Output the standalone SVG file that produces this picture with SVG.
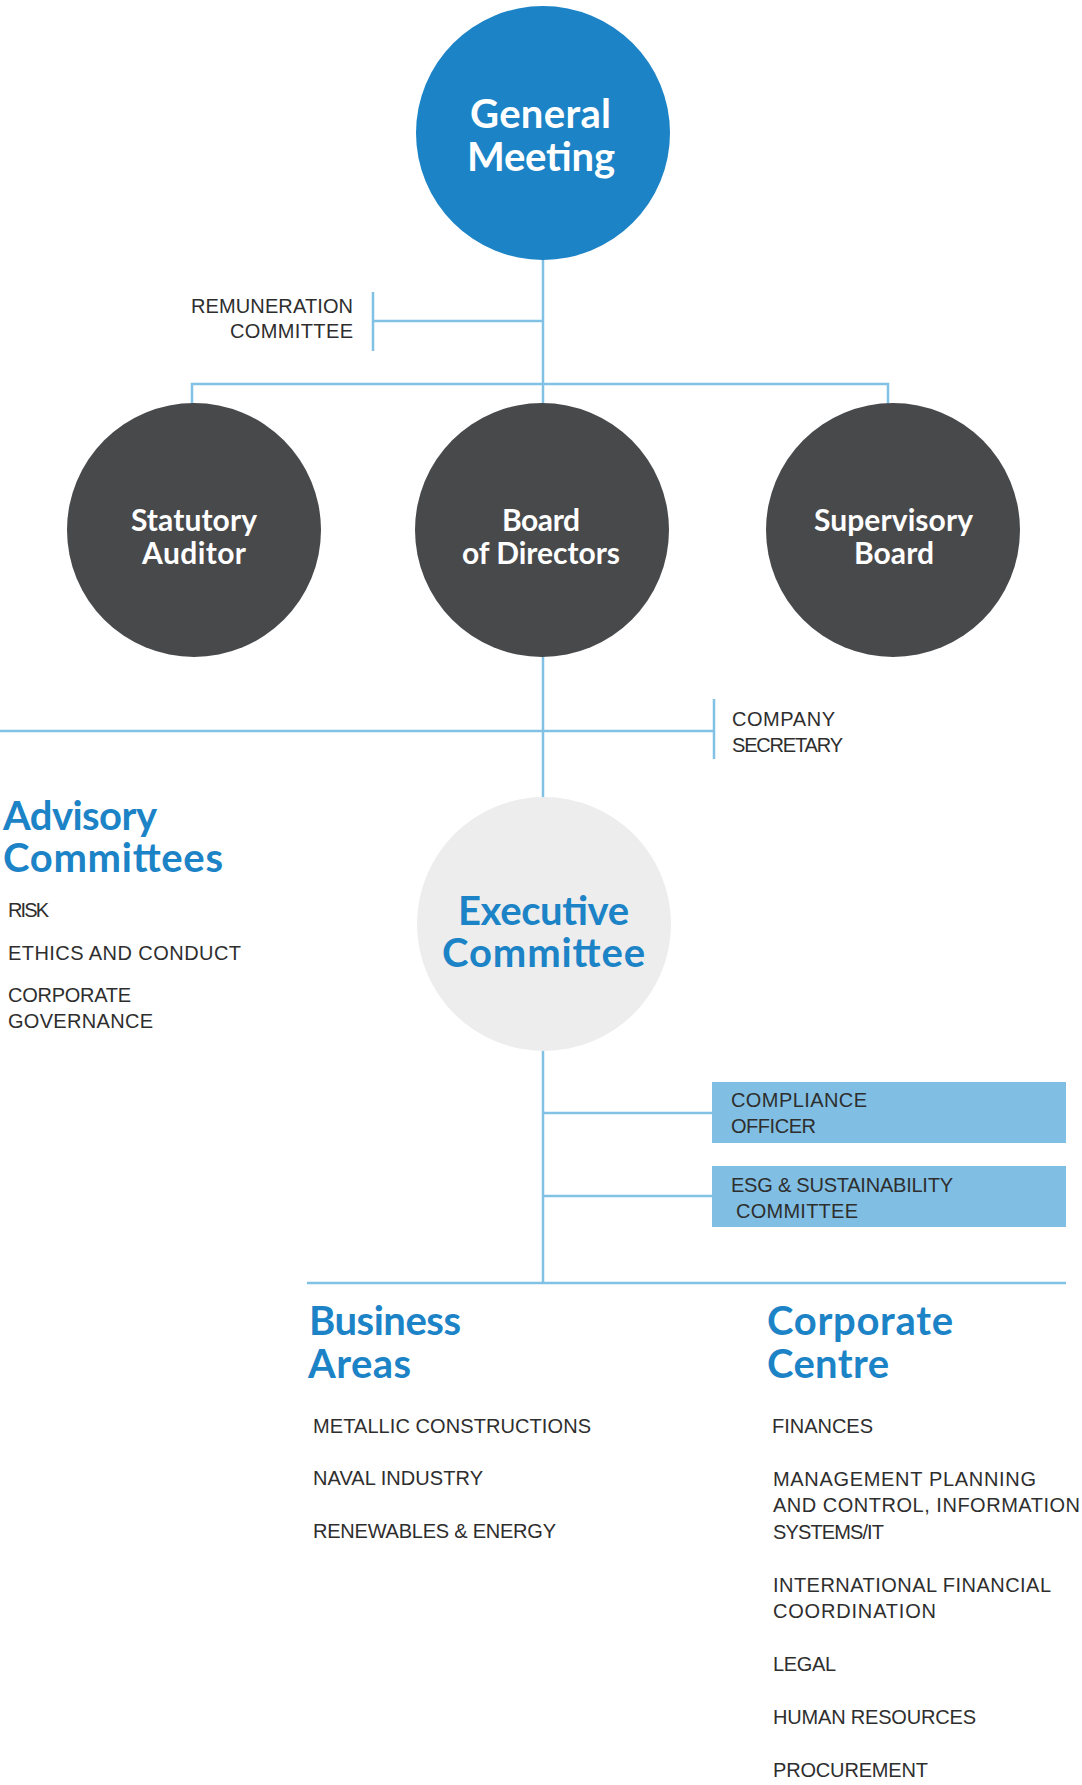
<svg xmlns="http://www.w3.org/2000/svg" width="1082" height="1785" viewBox="0 0 1082 1785">
  <style>
    .link { stroke: #80c1e5; stroke-width: 2.5; fill: none; }
    .head { font-family: Lato, "Open Sans", "Liberation Sans", sans-serif; font-weight: 700; font-size: 40px; fill: #1b83c6; }
    .head-w { font-family: Lato, "Open Sans", "Liberation Sans", sans-serif; font-weight: 700; font-size: 40px; fill: #ffffff; }
    .head-s { font-family: Lato, "Open Sans", "Liberation Sans", sans-serif; font-weight: 700; font-size: 30px; fill: #ffffff; }
    .body { font-family: "Liberation Sans", Arial, sans-serif; font-size: 20px; fill: #2e2e2e; }
    .dark { fill: #48494b; }
    .box { fill: #80bfe3; }
  </style>
  <rect width="1082" height="1785" fill="#ffffff"/>

  <g id="connectors">
    <!-- General Meeting down to Board of Directors -->
    <line class="link" x1="543" y1="258" x2="543" y2="405"/>
    <!-- Remuneration Committee bracket -->
    <line class="link" x1="543" y1="321" x2="373" y2="321"/>
    <line class="link" x1="373" y1="292" x2="373" y2="351"/>
    <!-- branch to the three governing bodies -->
    <polyline class="link" points="192,405 192,384 888,384 888,405"/>
    <!-- Board of Directors down to Executive Committee -->
    <line class="link" x1="543" y1="655" x2="543" y2="799"/>
    <!-- Advisory / Company Secretary bar -->
    <line class="link" x1="0" y1="731" x2="714" y2="731"/>
    <line class="link" x1="714" y1="699" x2="714" y2="759"/>
    <!-- Executive Committee down to the operating level -->
    <line class="link" x1="543" y1="1050" x2="543" y2="1283"/>
    <line class="link" x1="543" y1="1113" x2="712" y2="1113"/>
    <line class="link" x1="543" y1="1196" x2="712" y2="1196"/>
    <line class="link" x1="307" y1="1283" x2="1066" y2="1283"/>
  </g>

  <g id="general-meeting">
    <circle cx="543" cy="133" r="127" fill="#1b83c6"/>
    <text class="head-w" x="470" y="128" textLength="141" lengthAdjust="spacing">General</text>
    <text class="head-w" x="467" y="171" textLength="148" lengthAdjust="spacing">Meeting</text>
  </g>

  <g id="remuneration-committee">
    <text class="body" x="191" y="313" textLength="162" lengthAdjust="spacing">REMUNERATION</text>
    <text class="body" x="230" y="338" textLength="123" lengthAdjust="spacing">COMMITTEE</text>
  </g>

  <g id="statutory-auditor">
    <circle class="dark" cx="194" cy="530" r="127"/>
    <text class="head-s" x="131" y="531" textLength="126" lengthAdjust="spacing">Statutory</text>
    <text class="head-s" x="142" y="564" textLength="104" lengthAdjust="spacing">Auditor</text>
  </g>

  <g id="board-of-directors">
    <circle class="dark" cx="542" cy="530" r="127"/>
    <text class="head-s" x="502" y="531" textLength="78" lengthAdjust="spacing">Board</text>
    <text class="head-s" x="462" y="564" textLength="158" lengthAdjust="spacing">of Directors</text>
  </g>

  <g id="supervisory-board">
    <circle class="dark" cx="893" cy="530" r="127"/>
    <text class="head-s" x="814" y="531" textLength="159" lengthAdjust="spacing">Supervisory</text>
    <text class="head-s" x="854" y="564" textLength="80" lengthAdjust="spacing">Board</text>
  </g>

  <g id="company-secretary">
    <text class="body" x="732" y="726" textLength="103" lengthAdjust="spacing">COMPANY</text>
    <text class="body" x="732" y="752" textLength="111" lengthAdjust="spacing">SECRETARY</text>
  </g>

  <g id="advisory-committees">
    <text class="head" x="3" y="830" textLength="154" lengthAdjust="spacing">Advisory</text>
    <text class="head" x="3" y="872" textLength="220" lengthAdjust="spacing">Committees</text>
    <text class="body" x="8" y="917" textLength="41" lengthAdjust="spacing">RISK</text>
    <text class="body" x="8" y="960" textLength="233" lengthAdjust="spacing">ETHICS AND CONDUCT</text>
    <text class="body" x="8" y="1002" textLength="123" lengthAdjust="spacing">CORPORATE</text>
    <text class="body" x="8" y="1028" textLength="145" lengthAdjust="spacing">GOVERNANCE</text>
  </g>

  <g id="executive-committee">
    <circle cx="544" cy="924" r="127" fill="#ededed"/>
    <text class="head" x="458" y="925" textLength="171" lengthAdjust="spacing">Executive</text>
    <text class="head" x="442" y="967" textLength="203" lengthAdjust="spacing">Committee</text>
  </g>

  <g id="compliance-officer">
    <rect class="box" x="712" y="1082" width="354" height="61"/>
    <text class="body" x="731" y="1107" textLength="136" lengthAdjust="spacing">COMPLIANCE</text>
    <text class="body" x="731" y="1133" textLength="85" lengthAdjust="spacing">OFFICER</text>
  </g>

  <g id="esg-sustainability-committee">
    <rect class="box" x="712" y="1166" width="354" height="61"/>
    <text class="body" x="731" y="1192" textLength="222" lengthAdjust="spacing">ESG &amp; SUSTAINABILITY</text>
    <text class="body" x="736" y="1218" textLength="122" lengthAdjust="spacing">COMMITTEE</text>
  </g>

  <g id="business-areas">
    <text class="head" x="309" y="1335" textLength="152" lengthAdjust="spacing">Business</text>
    <text class="head" x="308" y="1378" textLength="103" lengthAdjust="spacing">Areas</text>
    <text class="body" x="313" y="1433" textLength="278" lengthAdjust="spacing">METALLIC CONSTRUCTIONS</text>
    <text class="body" x="313" y="1485" textLength="170" lengthAdjust="spacing">NAVAL INDUSTRY</text>
    <text class="body" x="313" y="1538" textLength="243" lengthAdjust="spacing">RENEWABLES &amp; ENERGY</text>
  </g>

  <g id="corporate-centre">
    <text class="head" x="767" y="1335" textLength="186" lengthAdjust="spacing">Corporate</text>
    <text class="head" x="767" y="1378" textLength="122" lengthAdjust="spacing">Centre</text>
    <text class="body" x="772" y="1433" textLength="101" lengthAdjust="spacing">FINANCES</text>
    <text class="body" x="773" y="1486" textLength="263" lengthAdjust="spacing">MANAGEMENT PLANNING</text>
    <text class="body" x="773" y="1512" textLength="307" lengthAdjust="spacing">AND CONTROL, INFORMATION</text>
    <text class="body" x="773" y="1539" textLength="111" lengthAdjust="spacing">SYSTEMS/IT</text>
    <text class="body" x="773" y="1592" textLength="278" lengthAdjust="spacing">INTERNATIONAL FINANCIAL</text>
    <text class="body" x="773" y="1618" textLength="163" lengthAdjust="spacing">COORDINATION</text>
    <text class="body" x="773" y="1671" textLength="63" lengthAdjust="spacing">LEGAL</text>
    <text class="body" x="773" y="1724" textLength="203" lengthAdjust="spacing">HUMAN RESOURCES</text>
    <text class="body" x="773" y="1777" textLength="155" lengthAdjust="spacing">PROCUREMENT</text>
  </g>
</svg>
